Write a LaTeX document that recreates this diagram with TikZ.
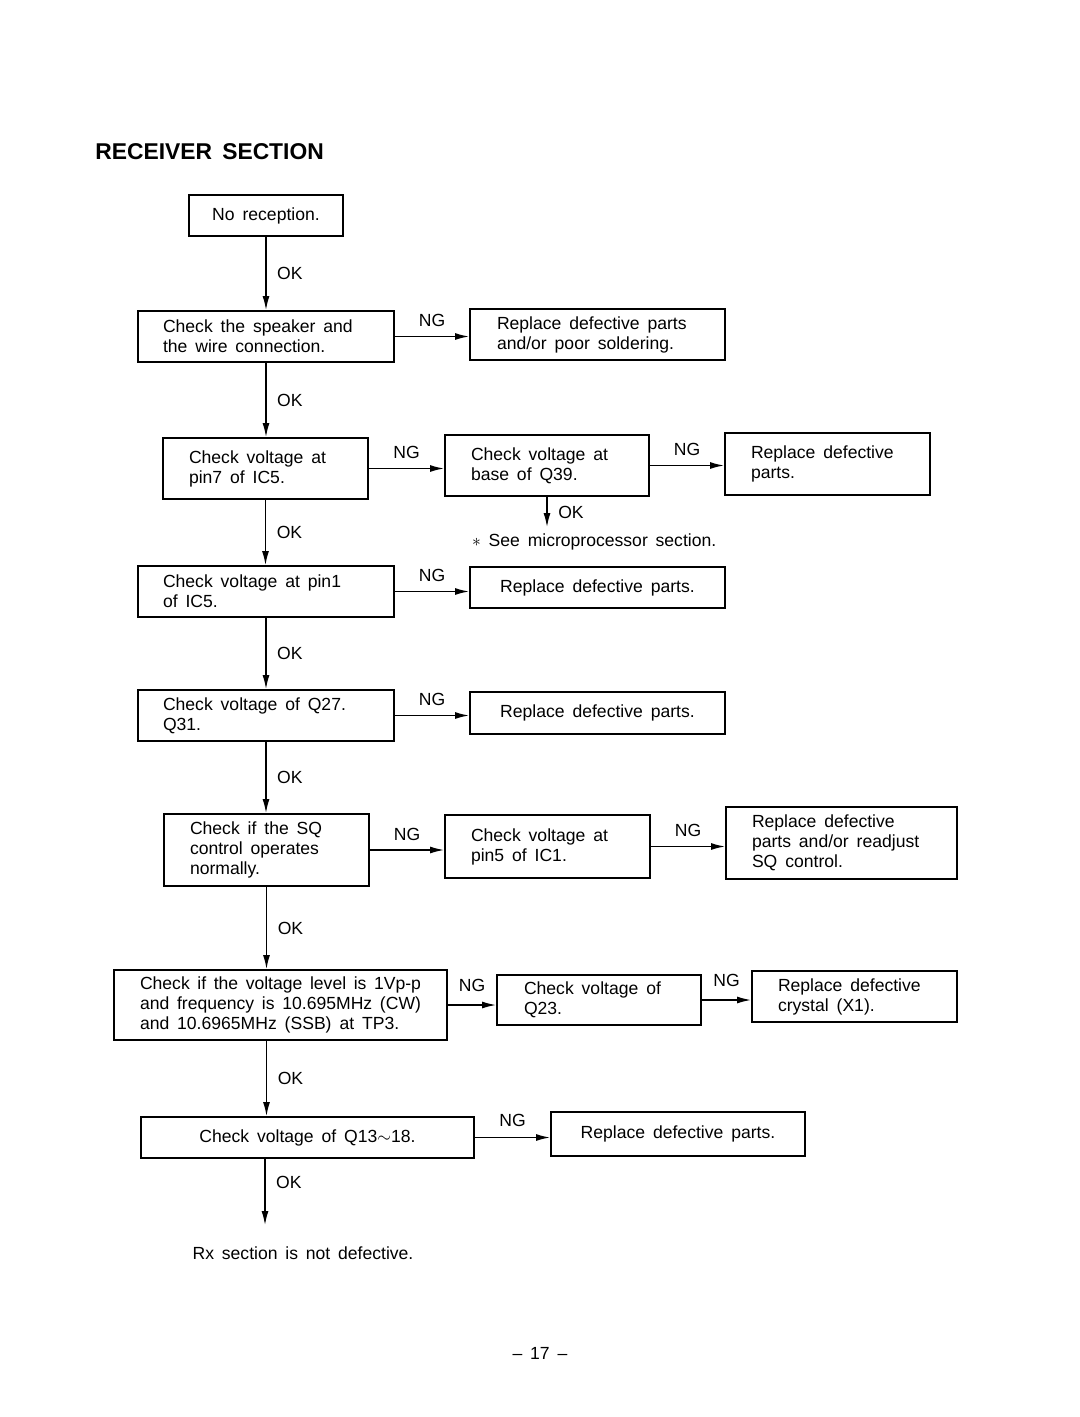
\documentclass[tikz,border=0pt]{standalone}
\usepackage{fontspec}
\setmainfont[WordSpace=1.6]{Liberation Sans}
\usetikzlibrary{arrows.meta}

\begin{document}
\begin{tikzpicture}[
    box/.style={draw, line width=1.1pt, inner sep=0pt, align=left, font=\fontsize{10}{11.4}\selectfont,
        execute at begin node={\spaceskip=0.45em plus 0.05em minus 0.05em\relax}},
    flow/.style={line width=0.8pt, -{Latex[length=2.8mm,width=1.4mm]}},
    lbl/.style={font=\fontsize{10}{11.4}\selectfont, inner sep=1pt}
]
    \useasboundingbox (0,0) rectangle (21.6,-28.34);

    % Title
    \node[anchor=west, inner sep=0pt, font=\bfseries\fontsize{13}{15}\selectfont] (title) at (1.9,-3.04) {RECEIVER SECTION};

    % Main column
    \node[box, minimum width=3.08cm, minimum height=0.82cm, align=center] (start) at (5.32,-4.31) {No reception.};
    \node[box, minimum width=5.12cm, minimum height=1.02cm, text width=4.12cm] (speaker) at (5.32,-6.73) {Check the speaker and\\the wire connection.};
    \node[box, minimum width=4.10cm, minimum height=1.22cm, text width=3.06cm] (pin7) at (5.31,-9.37) {Check voltage at\\pin7 of IC5.};
    \node[box, minimum width=5.12cm, minimum height=1.02cm, text width=4.12cm] (pin1) at (5.32,-11.83) {Check voltage at pin1\\of IC5.};
    \node[box, minimum width=5.12cm, minimum height=1.02cm, text width=4.12cm] (q27) at (5.32,-14.31) {Check voltage of Q27.\\Q31.};
    \node[box, minimum width=4.10cm, minimum height=1.44cm, text width=3.06cm] (sq) at (5.33,-17.00) {Check if the SQ\\control operates\\normally.};
    \node[box, minimum width=6.66cm, minimum height=1.40cm, text width=5.62cm] (level) at (5.61,-20.10) {Check if the voltage level is 1Vp-p\\and frequency is 10.695MHz (CW)\\and 10.6965MHz (SSB) at TP3.};
    \node[box, minimum width=6.66cm, minimum height=0.82cm, align=center] (q13) at (6.15,-22.75) {Check voltage of Q13$\sim$18.};
    \node[lbl] (rxok) at (6.06,-25.06) {Rx section is not defective.};

    % Second column
    \node[box, minimum width=5.10cm, minimum height=1.02cm, text width=4.02cm] (fixsolder) at (11.95,-6.69) {Replace defective parts\\and/or poor soldering.};
    \node[box, minimum width=4.08cm, minimum height=1.22cm, text width=3.04cm] (q39) at (10.94,-9.31) {Check voltage at\\base of Q39.};
    \node[lbl, anchor=west] (note) at (9.4,-10.84) {$\ast$ See microprocessor section.};
    \node[box, minimum width=5.10cm, minimum height=0.82cm, align=center] (fixpin1) at (11.95,-11.75) {Replace defective parts.};
    \node[box, minimum width=5.10cm, minimum height=0.84cm, align=center] (fixq27) at (11.95,-14.26) {Replace defective parts.};
    \node[box, minimum width=4.10cm, minimum height=1.26cm, text width=3.06cm] (pin5) at (10.95,-16.93) {Check voltage at\\pin5 of IC1.};
    \node[box, minimum width=4.08cm, minimum height=1.00cm, text width=3.00cm] (q23) at (11.98,-20.00) {Check voltage of\\Q23.};
    \node[box, minimum width=5.08cm, minimum height=0.88cm, align=center] (fixq13) at (13.56,-22.68) {Replace defective parts.};

    % Third column
    \node[box, minimum width=4.10cm, minimum height=1.24cm, text width=3.06cm] (fixq39) at (16.55,-9.28) {Replace defective\\parts.};
    \node[box, minimum width=4.62cm, minimum height=1.44cm, text width=3.58cm] (fixsq) at (16.83,-16.86) {Replace defective\\parts and/or readjust\\SQ control.};
    \node[box, minimum width=4.10cm, minimum height=1.02cm, text width=3.06cm] (crystal) at (17.09,-19.93) {Replace defective\\crystal (X1).};

    % Page number
    \node[lbl] (pageno) at (10.8,-27.06) {\textendash{} 17 \textendash};

    % Free ends
    \coordinate (q39tip) at (10.94,-10.54);
    \coordinate (endtip) at (5.30,-24.50);

    % OK arrows
    \draw[flow] (start) -- node[lbl, right=5pt] {OK} (speaker);
    \draw[flow] (speaker) -- node[lbl, right=5pt] {OK} (speaker |- pin7.north);
    \draw[flow] (pin7.south) -- node[lbl, right=5pt] {OK} (pin7.south |- pin1.north);
    \draw[flow] (pin1) -- node[lbl, right=5pt] {OK} (q27);
    \draw[flow] (q27.south) -- node[lbl, right=5pt] {OK} (q27.south |- sq.north);
    \draw[flow] (sq.south) -- node[lbl, right=5pt] {OK} (sq.south |- level.north);
    \draw[flow] (level.south -| sq.south) -- node[lbl, right=5pt] {OK} (q13.north -| sq.south);
    \draw[flow] (q13.south -| endtip) -- node[lbl, right=5pt, pos=0.35] {OK} (endtip);
    \draw[flow] (q39) -- node[lbl, right=5pt] {OK} (q39tip);

    % NG arrows
    \draw[flow] (speaker.east) -- node[lbl, above=4pt] {NG} (speaker.east -| fixsolder.west);
    \draw[flow] (pin7.east) -- node[lbl, above=4pt] {NG} (pin7.east -| q39.west);
    \draw[flow] (q39.east) -- node[lbl, above=4pt] {NG} (q39.east -| fixq39.west);
    \draw[flow] (pin1.east) -- node[lbl, above=4pt] {NG} (pin1.east -| fixpin1.west);
    \draw[flow] (q27.east) -- node[lbl, above=4pt] {NG} (q27.east -| fixq27.west);
    \draw[flow] (sq.east) -- node[lbl, above=4pt] {NG} (sq.east -| pin5.west);
    \draw[flow] (pin5.east) -- node[lbl, above=4pt] {NG} (pin5.east -| fixsq.west);
    \draw[flow] (level.east) -- node[lbl, above=6pt] {NG} (level.east -| q23.west);
    \draw[flow] (q23.east) -- node[lbl, above=6pt] {NG} (q23.east -| crystal.west);
    \draw[flow] (q13.east) -- node[lbl, above=5pt] {NG} (q13.east -| fixq13.west);
\end{tikzpicture}
\end{document}
